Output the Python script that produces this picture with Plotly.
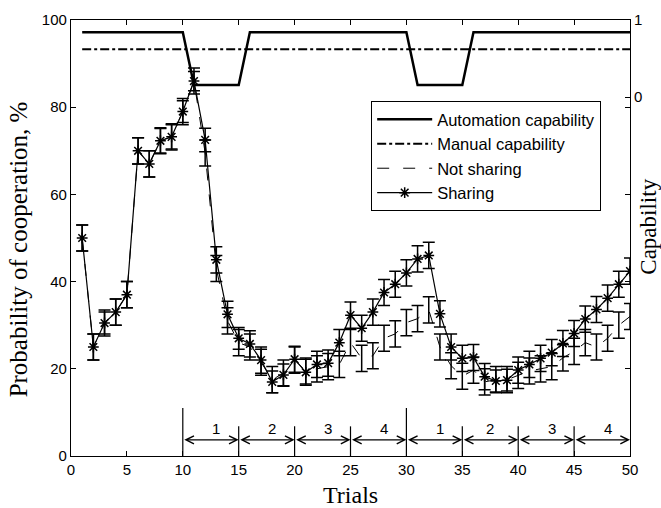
import plotly.graph_objects as go

trials = list(range(1, 51))

sharing = [50, 25, 30.5, 33, 37, 70, 67, 72.3, 73.2, 79,
           86, 72.5, 45, 32.5, 27, 25.7, 22, 17, 18.6, 22.2,
           19.2, 21, 21.3, 26, 32.3, 29.3, 33, 37.5, 39.4, 42,
           45.2, 46, 32.6, 25, 22.4, 22.6, 18.2, 17.2, 17.4, 19.7,
           21, 22.4, 23.7, 25.8, 28.1, 31.4, 33.6, 36.2, 39.4, 42.4]
sharing_err = [3, 3, 2.5, 3, 3, 3, 3, 2.8, 2.8, 2.5,
               2.2, 2.7, 3, 3, 2.5, 3, 3, 2.5, 2.5, 3,
               3, 3, 3, 3, 3, 3, 3, 3, 3, 3,
               3, 3, 3, 3, 3, 3, 3, 2.5, 2.5, 3,
               3, 3, 3, 3, 3, 3, 3, 3, 3, 3]

not_sharing = [50, 25, 30.5, 33, 37, 70, 67, 72.3, 73.2, 79,
               86, 69.5, 43, 31, 26, 25, 21.5, 17.5, 19, 22,
               19.5, 20, 20.5, 21, 26, 22.4, 23, 27, 28, 30.6,
               31.5, 33.5, 25, 20.7, 18.3, 19.7, 17, 17.5, 17.5, 18.5,
               19.5, 20, 20.5, 22.5, 24, 26, 25, 27, 30, 32]
not_sharing_err = [3] * 50

cap_trials = [1, 10, 11, 15, 16, 30, 31, 35, 36, 50]
automation_cap = [0.84, 0.84, 0.156, 0.156, 0.84, 0.84, 0.156, 0.156, 0.84, 0.84]
manual_trials = [1, 50]
manual_cap = [0.62, 0.62]

phase_bounds = [10, 15, 20, 25, 30, 35, 40, 45, 50]
phase_labels = ["1", "2", "3", "4", "1", "2", "3", "4"]
phase_label_x = [13, 18, 23, 28, 33, 37.5, 43, 48]
tall_marks = [10, 30]
short_marks = [15, 20, 25, 35, 40, 45]

SANS = "Liberation Sans, Arial, sans-serif"
SERIF = "Liberation Serif, Times New Roman, serif"

fig = go.Figure()

fig.add_trace(go.Scatter(
    x=cap_trials, y=automation_cap, yaxis="y2", mode="lines",
    name="Automation capability", line=dict(color="black", width=2.5)))
fig.add_trace(go.Scatter(
    x=manual_trials, y=manual_cap, yaxis="y2", mode="lines",
    name="Manual capability", line=dict(color="black", width=2, dash="dashdot")))
fig.add_trace(go.Scatter(
    x=trials, y=not_sharing, mode="lines", name="Not sharing",
    line=dict(color="black", width=1, dash="12px,14px"),
    error_y=dict(type="data", array=not_sharing_err, color="black", thickness=1.5, width=6)))
fig.add_trace(go.Scatter(
    x=trials, y=sharing, mode="lines+markers", name="Sharing",
    line=dict(color="black", width=1.2),
    marker=dict(symbol="asterisk-open", size=9, color="black", line=dict(color="black", width=1.5)),
    error_y=dict(type="data", array=sharing_err, color="black", thickness=1.5, width=6)))

shapes = []
for xv in tall_marks:
    shapes.append(dict(type="line", xref="x", yref="y", x0=xv, x1=xv, y0=0, y1=11,
                       line=dict(color="black", width=1.2)))
for xv in short_marks:
    shapes.append(dict(type="line", xref="x", yref="y", x0=xv, x1=xv, y0=0, y1=6.8,
                       line=dict(color="black", width=1.2)))

annotations = []
for a, b in zip(phase_bounds[:-1], phase_bounds[1:]):
    annotations.append(dict(x=b, y=3.7, ax=a, ay=3.7, xref="x", yref="y", axref="x", ayref="y",
                            text="", showarrow=True, arrowside="end+start", arrowhead=5,
                            arrowsize=1.3, arrowwidth=1.2, arrowcolor="black",
                            startarrowhead=5, startarrowsize=1.3))
for lx, lab in zip(phase_label_x, phase_labels):
    annotations.append(dict(x=lx, y=6.3, xref="x", yref="y", text=lab, showarrow=False,
                            font=dict(family=SANS, size=15, color="black")))
annotations.append(dict(x=1.033, y=0.527, xref="paper", yref="paper", text="Capability",
                        textangle=-90, showarrow=False, xanchor="center", yanchor="middle",
                        font=dict(family=SERIF, size=23, color="black")))
annotations.append(dict(x=-0.094, y=0.475, xref="paper", yref="paper",
                        text="Probability of cooperation, %",
                        textangle=-90, showarrow=False, xanchor="center", yanchor="middle",
                        font=dict(family=SERIF, size=25, color="black")))
annotations.append(dict(x=0.5, y=-0.09, xref="paper", yref="paper", text="Trials",
                        showarrow=False, xanchor="center", yanchor="middle",
                        font=dict(family=SERIF, size=24, color="black")))

fig.update_layout(
    width=661, height=508,
    margin=dict(l=71, r=31, t=20, b=52),
    plot_bgcolor="white", paper_bgcolor="white",
    font=dict(family=SANS, size=15, color="black"),
    showlegend=True,
    legend=dict(x=0.537, y=0.814, xanchor="left", yanchor="top",
                bordercolor="black", borderwidth=1, bgcolor="white",
                font=dict(family=SANS, size=16.5, color="black"),
                itemwidth=55, tracegroupgap=0),
    xaxis=dict(range=[0, 50], tickvals=[0, 5, 10, 15, 20, 25, 30, 35, 40, 45, 50],
               ticks="inside", ticklen=5, tickcolor="black", showline=True, linecolor="black",
               linewidth=1.2, mirror="ticks", showgrid=False, zeroline=False, automargin=False),
    yaxis=dict(range=[0, 100], tickvals=[0, 20, 40, 60, 80, 100],
               ticks="inside", ticklen=5, tickcolor="black", showline=True, linecolor="black",
               linewidth=1.2, mirror="ticks", showgrid=False, zeroline=False, automargin=False),
    yaxis2=dict(range=[-4.66, 1], overlaying="y", side="right",
                tickvals=[1, 0], ticktext=["1", "0"],
                ticks="inside", ticklen=5, tickcolor="black", showline=True, linecolor="black",
                linewidth=1.2, showgrid=False, zeroline=False, automargin=False),
    shapes=shapes,
    annotations=annotations,
)

fig.write_html("out.html")
